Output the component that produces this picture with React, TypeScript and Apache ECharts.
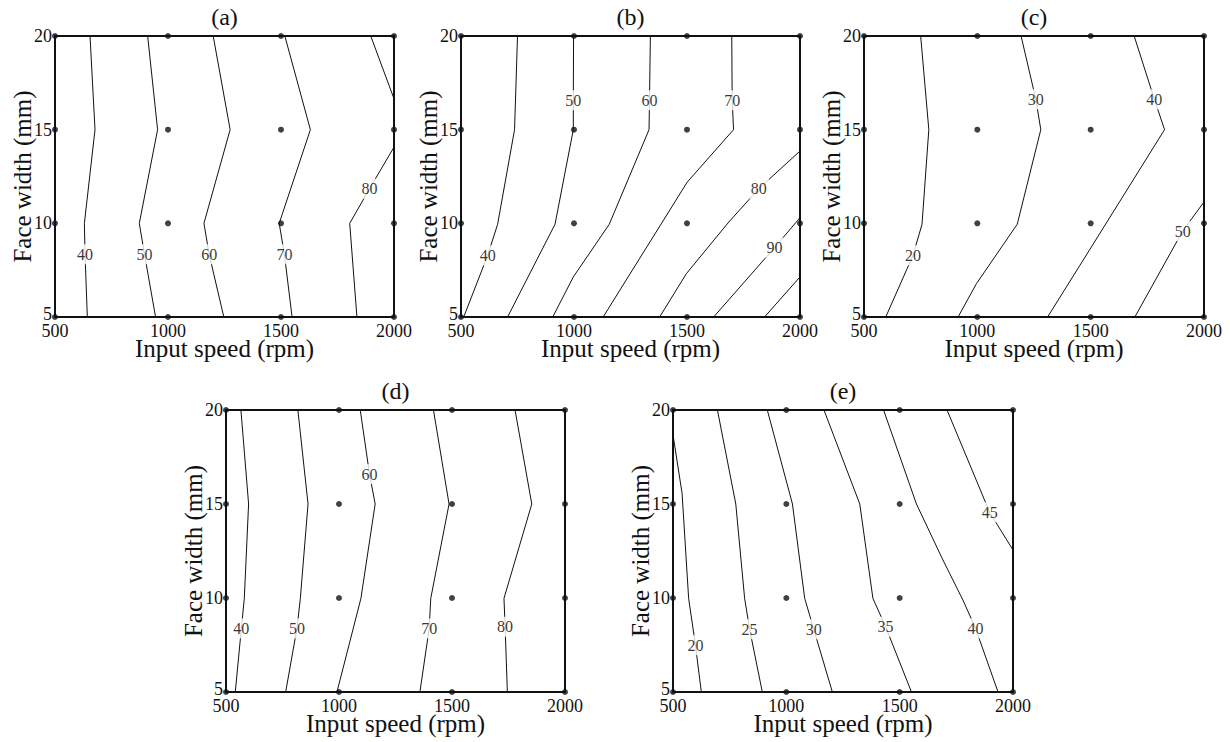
import React, { useEffect, useRef } from 'react';
import * as echarts from 'echarts';

type Contour = { level: string; path: number[][]; label?: number[] };

// design points (input speed rpm, face width mm)
const speeds = [500, 1000, 1500, 2000];
const widths = [5, 10, 15, 20];
const xTicks = { min: 500, max: 2000, step: 500 };
const yTicks = { min: 5, max: 20, step: 5 };

const titles = ['(a)', '(b)', '(c)', '(d)', '(e)'];
const xName = 'Input speed (rpm)';
const yName = 'Face width (mm)';

const contoursA: Contour[] = [
  { level: '40', path: [[655, 20], [677, 15], [630, 10], [633, 8.35], [643, 5]], label: [633, 8.35] },
  { level: '50', path: [[910, 20], [954, 15], [873, 10], [896, 8.35], [945, 5]], label: [896, 8.35] },
  { level: '60', path: [[1200, 20], [1275, 15], [1159, 10], [1182, 8.35], [1247, 5]], label: [1182, 8.35] },
  { level: '70', path: [[1517, 20], [1630, 15], [1492, 10], [1515, 8.35], [1549, 5]], label: [1515, 8.35] },
  { level: '80', path: [[1897, 20], [2000, 16.65]] },
  { level: '80', path: [[2000, 14.07], [1892, 11.85], [1804, 10], [1836, 5]], label: [1892, 11.85] },
];

const contoursB: Contour[] = [
  { level: '40', path: [[512, 5], [618, 8.29], [662, 9.95], [737, 15], [750, 20]], label: [618, 8.29] },
  { level: '50', path: [[706, 5], [916, 9.95], [997, 15], [997, 16.57], [998, 20]], label: [997, 16.57] },
  { level: '60', path: [[906, 5], [997, 7.14], [1156, 9.95], [1332, 15], [1334, 16.57], [1338, 20]], label: [1334, 16.57] },
  { level: '70', path: [[1129, 5], [1501, 12.2], [1706, 15], [1700, 16.57], [1698, 20]], label: [1700, 16.57] },
  { level: '80', path: [[1379, 5], [1497, 7.31], [1685, 10.07], [1818, 11.85], [2000, 13.86]], label: [1818, 11.85] },
  { level: '90', path: [[1618, 5], [1887, 8.7], [2000, 10.3]], label: [1887, 8.7] },
  { level: '100', path: [[1843, 5], [2000, 7.14]] },
];

const contoursC: Contour[] = [
  { level: '20', path: [[596, 5], [716, 8.29], [756, 9.95], [786, 15], [750, 20]], label: [716, 8.29] },
  { level: '30', path: [[915, 5], [996, 6.78], [1176, 9.95], [1280, 15], [1258, 16.62], [1193, 20]], label: [1258, 16.62] },
  { level: '40', path: [[1310, 5], [1494, 8.56], [1826, 15], [1781, 16.62], [1692, 20]], label: [1781, 16.62] },
  { level: '50', path: [[1695, 5], [1906, 9.59], [2000, 11.14]], label: [1906, 9.59] },
];

const contoursD: Contour[] = [
  { level: '40', path: [[541, 5], [568, 8.38], [581, 9.98], [600, 15], [566, 20]], label: [568, 8.38] },
  { level: '50', path: [[764, 5], [814, 8.38], [829, 9.98], [863, 15], [818, 20]], label: [814, 8.38] },
  { level: '60', path: [[991, 5], [1097, 9.98], [1160, 15], [1135, 16.59], [1094, 20]], label: [1135, 16.59] },
  { level: '70', path: [[1358, 5], [1399, 8.38], [1406, 9.98], [1487, 15], [1418, 20]], label: [1399, 8.38] },
  { level: '80', path: [[1745, 5], [1735, 8.47], [1730, 9.98], [1853, 15], [1779, 20]], label: [1735, 8.47] },
];

const contoursE: Contour[] = [
  { level: '20', path: [[625, 5], [599, 7.49], [569, 9.98], [540, 15.57], [500, 18.68]], label: [599, 7.49] },
  { level: '25', path: [[894, 5], [838, 8.34], [816, 9.98], [777, 15], [696, 20]], label: [838, 8.34] },
  { level: '30', path: [[1203, 5], [1121, 8.34], [1081, 9.98], [1027, 15], [916, 20]], label: [1121, 8.34] },
  { level: '35', path: [[1552, 5], [1438, 8.47], [1382, 9.98], [1324, 15], [1166, 20]], label: [1438, 8.47] },
  { level: '40', path: [[1934, 5], [1835, 8.38], [1779, 9.89], [1691, 12.02], [1574, 15], [1429, 20]], label: [1835, 8.38] },
  { level: '45', path: [[2000, 12.55], [1897, 14.56], [1709, 20]], label: [1897, 14.56] },
];

const panelContours = [contoursA, contoursB, contoursC, contoursD, contoursE];

const layout = [
  { left: 55, top: 36, width: 339, height: 281 },
  { left: 461, top: 36, width: 339, height: 281 },
  { left: 864, top: 36, width: 340, height: 281 },
  { left: 226, top: 410, width: 339, height: 282 },
  { left: 673, top: 410, width: 340, height: 282 },
];

const SERIF = 'Liberation Serif, Times New Roman, serif';
const INK = '#111';

export default function App() {
  const ref = useRef<HTMLDivElement>(null);
  useEffect(() => {
    if (!ref.current) return;
    const chart = echarts.init(ref.current, null, { renderer: 'svg' });
    const designPoints: number[][] = [];
    speeds.forEach((s) => widths.forEach((w) => designPoints.push([s, w])));

    const grids = layout.map((g) => ({
      ...g,
      show: true,
      borderColor: INK,
      borderWidth: 2,
      backgroundColor: 'transparent',
      containLabel: false,
    }));
    const xAxes = layout.map((_, i) => ({
      type: 'value',
      gridIndex: i,
      min: xTicks.min,
      max: xTicks.max,
      interval: xTicks.step,
      name: xName,
      nameLocation: 'middle',
      nameGap: 21,
      nameMoveOverlap: false,
      nameTextStyle: {
        fontFamily: SERIF,
        fontSize: 25,
        lineHeight: 20,
        color: INK,
        verticalAlign: 'top',
      },
      axisLine: { show: true, lineStyle: { color: INK, width: 2 } },
      axisTick: { show: false },
      splitLine: { show: false },
      axisLabel: {
        fontFamily: SERIF,
        fontSize: 18,
        lineHeight: 14,
        color: INK,
        margin: 7,
        formatter: (v: number) => String(v),
      },
    }));
    const yAxes = layout.map((_, i) => ({
      type: 'value',
      gridIndex: i,
      min: yTicks.min,
      max: yTicks.max,
      interval: yTicks.step,
      name: yName,
      nameLocation: 'middle',
      nameGap: 20,
      nameMoveOverlap: false,
      nameTextStyle: { fontFamily: SERIF, fontSize: 25, color: INK },
      axisLine: { show: true, lineStyle: { color: INK, width: 2 } },
      axisTick: { show: false },
      splitLine: { show: false },
      axisLabel: {
        fontFamily: SERIF,
        fontSize: 18,
        lineHeight: 14,
        color: INK,
        margin: 3,
        formatter: (v: number) => (v === yTicks.min ? `{low|${v}}` : String(v)),
        rich: {
          low: { fontFamily: SERIF, fontSize: 18, lineHeight: 14, color: INK, padding: [0, 0, 6, 0] },
        },
      },
    }));

    const series: any[] = [];
    panelContours.forEach((contours, i) => {
      contours.forEach((c) => {
        series.push({
          type: 'line',
          xAxisIndex: i,
          yAxisIndex: i,
          data: c.path,
          symbol: 'none',
          color: INK,
          lineStyle: { color: INK, width: 1 },
          z: 2,
          silent: true,
        });
      });
      series.push({
        type: 'scatter',
        xAxisIndex: i,
        yAxisIndex: i,
        data: contours.filter((c) => c.label).map((c) => [c.label![0], c.label![1], c.level]),
        symbol: 'circle',
        symbolSize: 0,
        color: INK,
        itemStyle: { color: INK },
        label: {
          show: true,
          position: [0, 0],
          align: 'center',
          verticalAlign: 'middle',
          formatter: (p: any) => p.value[2],
          fontFamily: SERIF,
          fontSize: 16,
          color: '#000',
          textBorderWidth: 0,
          backgroundColor: '#fff',
          padding: [2, 2],
        },
        z: 4,
        silent: true,
      });
      series.push({
        type: 'scatter',
        xAxisIndex: i,
        yAxisIndex: i,
        data: designPoints,
        symbol: 'circle',
        symbolSize: 6,
        color: INK,
        itemStyle: { color: INK },
        clip: false,
        z: 5,
        silent: true,
      });
    });

    const graphic = layout.map((g, i) => ({
      type: 'text',
      x: g.left + g.width / 2,
      y: g.top - 19,
      style: {
        text: titles[i],
        font: `24px ${SERIF}`,
        fill: INK,
        textAlign: 'center',
        textVerticalAlign: 'middle',
      },
    }));

    chart.setOption({
      animation: false,
      backgroundColor: '#fff',
      grid: grids,
      xAxis: xAxes,
      yAxis: yAxes,
      series,
      graphic,
    });
    return () => chart.dispose();
  }, []);
  return (
    <div
      ref={ref}
      style={{ position: 'fixed', left: 0, top: 0, width: 1230, height: 742, background: '#fff' }}
    />
  );
}
